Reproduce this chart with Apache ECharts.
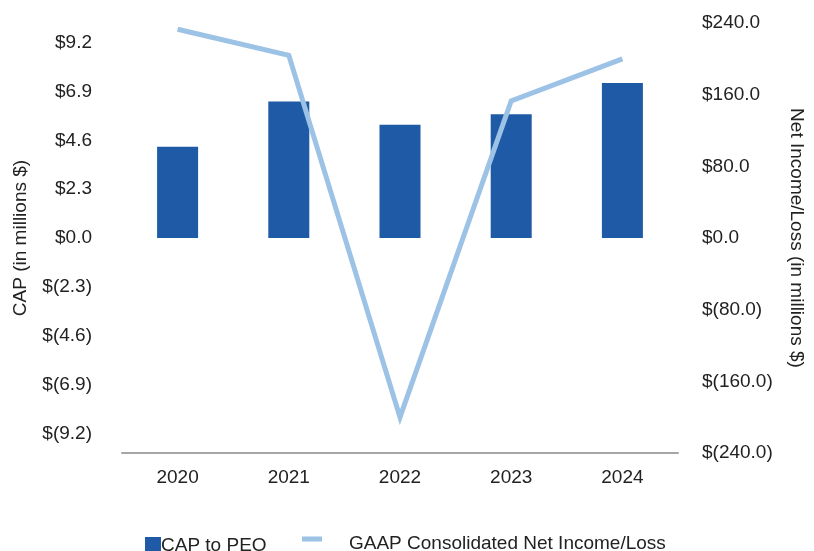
<!DOCTYPE html>
<html>
<head>
<meta charset="utf-8">
<script src="https://cdn.jsdelivr.net/npm/echarts@6/dist/echarts.min.js"></script>
<style>
  html, body { margin: 0; padding: 0; background: #fff; }
  #chart { width: 814px; height: 551px; }
</style>
</head>
<body>
<div id="chart"></div>
<script>
// Fiscal years on the category axis
const years = ['2020', '2021', '2022', '2023', '2024'];
// Compensation actually paid to PEO, $ millions (left axis)
const capToPeo = [4.30, 6.42, 5.33, 5.83, 7.29];
// GAAP consolidated net income/loss, $ millions (right axis)
const netIncome = [233, 204, -200, 153, 200];
// Left axis tick values
const capTicks = [-9.2, -6.9, -4.6, -2.3, 0, 2.3, 4.6, 6.9, 9.2];

const FONT = 'Liberation Sans, Arial, sans-serif';
const FS = 19;
const BAR = '#1f5aa6';
const LINE = '#9cc2e5';

// Line swatch sits above the text's centre: a 20x5 bar plus a tiny anchor point below it
const LINE_ICON = 'path://M0,0H20V5H0ZM0,14H0.01V14.01H0Z';

function money(v, digits) {
  const s = Math.abs(v).toFixed(digits);
  return v < 0 ? '$(' + s + ')' : '$' + s;
}

const chart = echarts.init(document.getElementById('chart'), null, { renderer: 'canvas' });
chart.setOption({
  animation: false,
  backgroundColor: '#ffffff',
  grid: { left: 122, right: 133, top: 23, bottom: 98, containLabel: false },
  legend: [
    {
      data: [{ name: 'CAP to PEO', icon: 'rect' }],
      left: 140, top: 531,
      itemWidth: 16, itemHeight: 17, itemGap: 0,
      textStyle: { fontFamily: FONT, fontSize: FS, color: '#222', padding: [0, 0, 0, -5] }
    },
    {
      data: [{ name: 'GAAP Consolidated Net Income/Loss', icon: LINE_ICON }],
      left: 302, top: 534, padding: 0,
      itemWidth: 20, itemHeight: 14, itemGap: 0,
      textStyle: { fontFamily: FONT, fontSize: FS, color: '#222', padding: [0, 0, 0, 22] }
    }
  ],
  xAxis: {
    type: 'category',
    data: years,
    axisLine: { onZero: false, lineStyle: { color: '#a6a6a6', width: 2 } },
    axisTick: { show: false },
    axisLabel: { fontFamily: FONT, fontSize: FS, color: '#222', margin: 15 }
  },
  yAxis: [
    {
      type: 'value',
      min: -10.12, max: 10.12,
      name: 'CAP (in millions $)',
      nameLocation: 'middle',
      nameGap: 92,
      nameRotate: 90,
      nameTextStyle: { fontFamily: FONT, fontSize: FS, color: '#222' },
      axisLine: { show: false },
      axisTick: { show: false },
      splitLine: { show: false },
      axisLabel: {
        customValues: capTicks,
        fontFamily: FONT, fontSize: FS, color: '#222', margin: 30,
        formatter: v => money(v, 1)
      }
    },
    {
      type: 'value',
      min: -240, max: 240, interval: 80,
      name: 'Net Income/Loss (in millions $)',
      nameLocation: 'middle',
      nameGap: 109,
      nameRotate: -90,
      nameTextStyle: { fontFamily: FONT, fontSize: FS, color: '#222' },
      axisLine: { show: false },
      axisTick: { show: false },
      splitLine: { show: false },
      axisLabel: {
        fontFamily: FONT, fontSize: FS, color: '#222', margin: 24,
        formatter: v => money(v, 1)
      }
    }
  ],
  series: [
    {
      name: 'CAP to PEO',
      type: 'bar',
      yAxisIndex: 0,
      data: capToPeo,
      barWidth: 41,
      itemStyle: { color: BAR }
    },
    {
      name: 'GAAP Consolidated Net Income/Loss',
      type: 'line',
      yAxisIndex: 1,
      data: netIncome,
      showSymbol: false,
      symbol: 'none',
      lineStyle: { color: LINE, width: 5, join: 'miter' },
      itemStyle: { color: LINE }
    }
  ]
});
</script>
</body>
</html>
